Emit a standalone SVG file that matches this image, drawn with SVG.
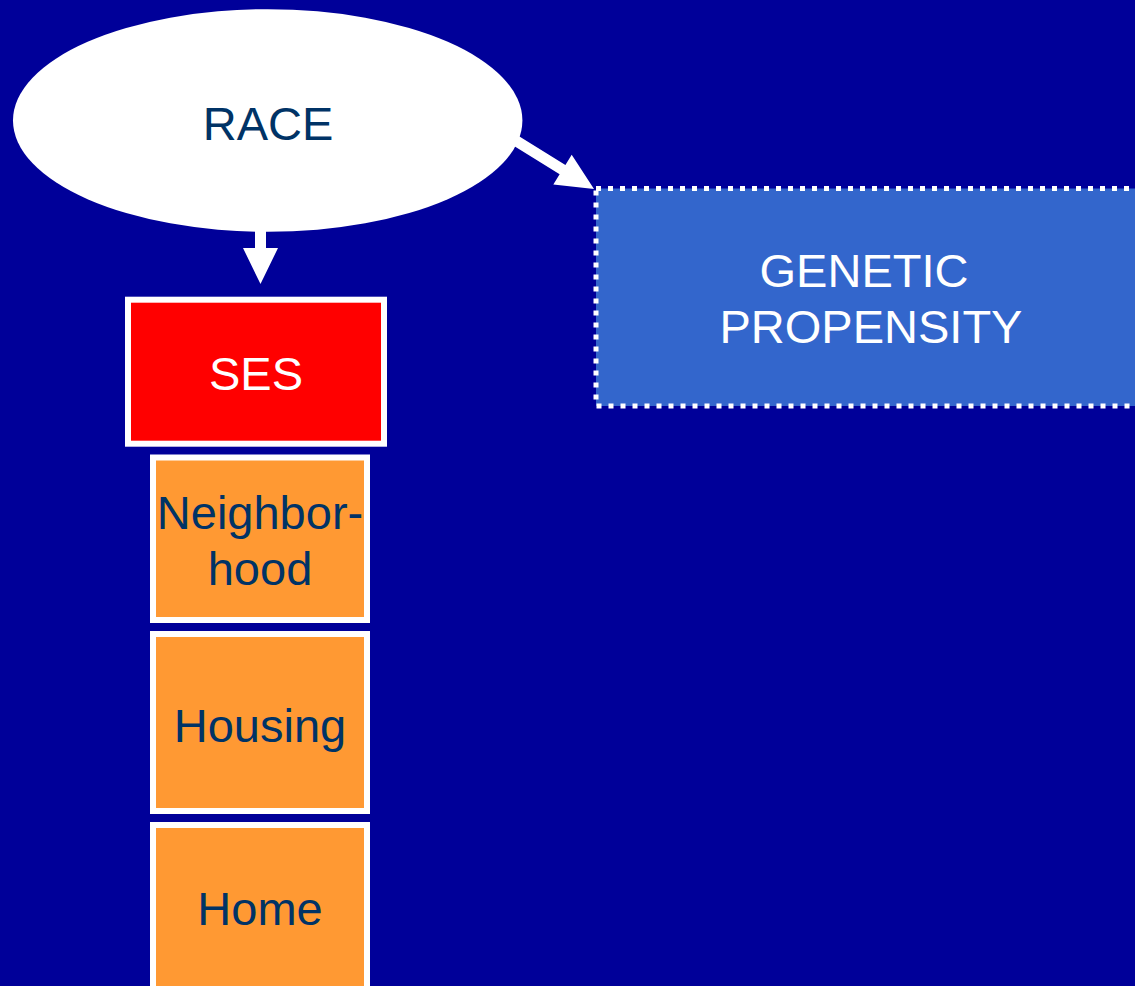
<svg xmlns="http://www.w3.org/2000/svg" width="1135" height="986" viewBox="0 0 1135 986">
<style>
.t{font-family:"Liberation Sans",Arial,sans-serif;font-size:47px;text-anchor:middle}
.dark{fill:#003366}
.light{fill:#ffffff}
.orange{fill:#FF9933;stroke:#ffffff;stroke-width:6}
.arrow{fill:#ffffff}
</style>
<defs>
<polygon id="arr" points="-100,-5.5 -37,-5.5 -37,-17.5 0,0 -37,17.5 -37,5.5 -100,5.5"/>
</defs>
<rect x="0" y="0" width="1135" height="986" fill="#000099"/>
<g id="connectors">
<use href="#arr" class="arrow" transform="translate(594,189) rotate(31.7)"/>
<polygon class="arrow" points="255,222 266,222 266,248 278,248 260.5,284 243,248 255,248"/>
</g>
<g id="race">
<ellipse cx="267.7" cy="120.5" rx="254.7" ry="111.3" fill="#ffffff"/>
<text class="t dark" x="268" y="140">RACE</text>
</g>
<g id="genetic">
<rect x="596" y="188.5" width="560" height="217.5" fill="#3366CC" stroke="#ffffff" stroke-width="5" stroke-dasharray="5 7"/>
<text class="t light" x="864" y="287">GENETIC</text>
<text class="t light" x="871" y="343">PROPENSITY</text>
</g>
<g id="ses">
<rect x="128" y="299.7" width="256" height="144" fill="#FF0000" stroke="#ffffff" stroke-width="6"/>
<text class="t light" x="256" y="390">SES</text>
</g>
<g id="neighborhood">
<rect class="orange" x="153" y="457.5" width="214" height="162.5"/>
<text class="t dark" x="260" y="529">Neighbor-</text>
<text class="t dark" x="260" y="585">hood</text>
</g>
<g id="housing">
<rect class="orange" x="153" y="634" width="214" height="177"/>
<text class="t dark" x="260" y="742">Housing</text>
</g>
<g id="home">
<rect class="orange" x="153" y="825" width="214" height="200"/>
<text class="t dark" x="260" y="925">Home</text>
</g>
</svg>
